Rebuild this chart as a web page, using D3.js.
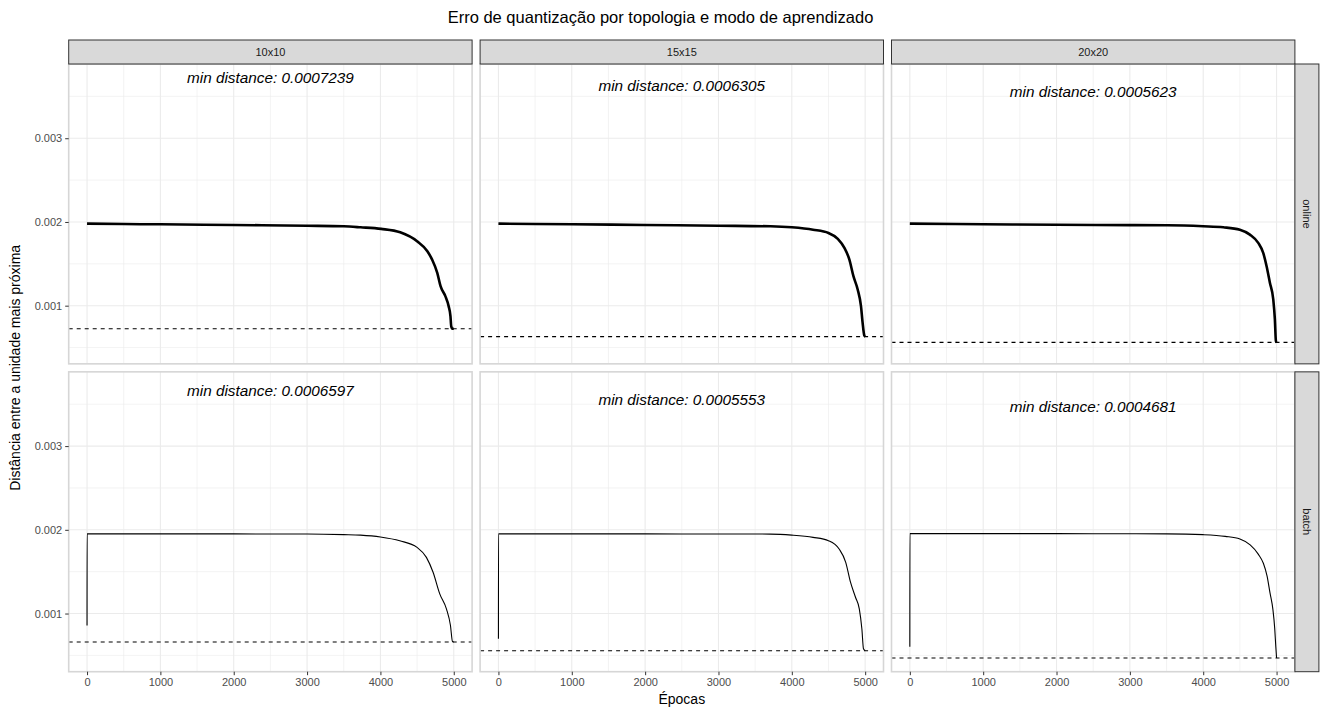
<!DOCTYPE html>
<html>
<head>
<meta charset="utf-8">
<script src="https://cdn.jsdelivr.net/npm/d3@7"></script>
<style>
  body { margin: 0; background: #fff; }
  svg { font-family: "Liberation Sans", Arial, sans-serif; }
</style>
</head>
<body>
<svg id="chart" width="1321" height="709"></svg>
<script>
var colLabels = ["10x10", "15x15", "20x20"];
var rowLabels = ["online", "batch"];

var minOnline = [0.0007239, 0.0006305, 0.0005623];
var minBatch = [0.0006597, 0.0005553, 0.0004681];

var xTicks = [0, 1000, 2000, 3000, 4000, 5000];
var yTicks = [0.001, 0.002, 0.003];

// epochs / values
var epochsOnline10 = [0, 500, 1000, 2000, 3000, 3500, 3730, 4010, 4270, 4500, 4640, 4705, 4775, 4820, 4885, 4930, 4955, 4965, 4980, 5000];
var valuesOnline10 = [0.00198, 0.001975, 0.001972, 0.001964, 0.001955, 0.001948, 0.001936, 0.001917, 0.001876, 0.001769, 0.00165, 0.00155, 0.001393, 0.001233, 0.001114, 0.000995, 0.000876, 0.000757, 0.000724, 0.0007239];

var epochsOnline15 = [0, 1000, 2000, 3000, 3710, 4000, 4290, 4500, 4627, 4717, 4785, 4840, 4898, 4943, 4965, 4988, 5000];
var valuesOnline15 = [0.00198, 0.001972, 0.001964, 0.001955, 0.001948, 0.001936, 0.001908, 0.001869, 0.001798, 0.00169, 0.00155, 0.001352, 0.001194, 0.000995, 0.000798, 0.000646, 0.0006305];

var epochsOnline20 = [0, 1000, 2000, 3000, 3509, 4000, 4273, 4500, 4636, 4750, 4818, 4864, 4909, 4955, 4977, 4991, 5000];
var valuesOnline20 = [0.00198, 0.001972, 0.001966, 0.001962, 0.00196, 0.001948, 0.001936, 0.001908, 0.001849, 0.00175, 0.001631, 0.001471, 0.001274, 0.001075, 0.000837, 0.000579, 0.0005623];

var epochsBatch10 = [0, 1, 1000, 2000, 3000, 3500, 3728, 4000, 4264, 4500, 4627, 4718, 4809, 4900, 4955, 4982, 5000];
var valuesBatch10 = [0.000857, 0.001952, 0.001952, 0.001951, 0.00195, 0.001943, 0.001937, 0.001915, 0.001869, 0.00179, 0.001671, 0.001493, 0.001235, 0.001056, 0.000857, 0.000667, 0.0006597];

var epochsBatch15 = [0, 1, 1000, 2000, 3000, 3710, 4000, 4290, 4500, 4645, 4735, 4800, 4868, 4920, 4955, 4977, 5000];
var valuesBatch15 = [0.000698, 0.001952, 0.001952, 0.001951, 0.00195, 0.001949, 0.001937, 0.00191, 0.001869, 0.00177, 0.001612, 0.001374, 0.001195, 0.001056, 0.000818, 0.00058, 0.0005553];

var epochsBatch20 = [0, 1, 1000, 2000, 3000, 3500, 4000, 4300, 4500, 4640, 4750, 4820, 4870, 4910, 4950, 4975, 4990, 5000];
var valuesBatch20 = [0.000603, 0.001955, 0.001955, 0.001954, 0.001953, 0.001952, 0.001942, 0.001922, 0.00189, 0.00182, 0.00171, 0.0016, 0.00145, 0.00125, 0.00105, 0.00082, 0.0006, 0.0004681];

var series = [
    [[epochsOnline10, valuesOnline10], [epochsOnline15, valuesOnline15], [epochsOnline20, valuesOnline20]],
    [[epochsBatch10, valuesBatch10], [epochsBatch15, valuesBatch15], [epochsBatch20, valuesBatch20]]
];
var minDist = [minOnline, minBatch];

var dims = { left: 68.7, top: 64, panelW: 403.4, panelH: 299.85, gap: 8, strip: 24 };

var x = d3.scaleLinear().domain([-250, 5250]).range([0, dims.panelW]);
var yMin = d3.min(minBatch), yMax = d3.max(minOnline) + 0.003;
var pad = (yMax - yMin) * 0.05;
var y = d3.scaleLinear().domain([yMin - pad, yMax + pad]).range([dims.panelH, 0]);

var xMinor = d3.range(500, 5000, 1000);
var yMinor = [0.0005, 0.0015, 0.0025, 0.0035];

var line = d3.line()
    .x(function(d) { return x(d[0]); })
    .y(function(d) { return y(d[1]); })
    .curve(d3.curveMonotoneX);

var svg = d3.select("#chart");

svg.append("text")
    .attr("x", 660.5).attr("y", 23)
    .attr("text-anchor", "middle")
    .attr("font-size", 16.5).attr("fill", "#000")
    .text("Erro de quantização por topologia e modo de aprendizado");

rowLabels.forEach(function(rowName, r) {
    colLabels.forEach(function(colName, c) {
        var px = dims.left + c * (dims.panelW + dims.gap);
        var py = dims.top + r * (dims.panelH + dims.gap);
        var g = svg.append("g").attr("transform", "translate(" + px + "," + py + ")");

        g.append("rect").attr("width", dims.panelW).attr("height", dims.panelH).attr("fill", "#fff");

        // grid
        g.selectAll(".minx").data(xMinor).enter().append("line")
            .attr("x1", x).attr("x2", x).attr("y1", 0).attr("y2", dims.panelH)
            .attr("stroke", "#EBEBEB").attr("stroke-width", 0.6);
        g.selectAll(".miny").data(yMinor).enter().append("line")
            .attr("y1", y).attr("y2", y).attr("x1", 0).attr("x2", dims.panelW)
            .attr("stroke", "#EBEBEB").attr("stroke-width", 0.6);
        g.selectAll(".majx").data(xTicks).enter().append("line")
            .attr("x1", x).attr("x2", x).attr("y1", 0).attr("y2", dims.panelH)
            .attr("stroke", "#EBEBEB").attr("stroke-width", 1.1);
        g.selectAll(".majy").data(yTicks).enter().append("line")
            .attr("y1", y).attr("y2", y).attr("x1", 0).attr("x2", dims.panelW)
            .attr("stroke", "#EBEBEB").attr("stroke-width", 1.1);

        var s = series[r][c];
        var pts = s[0].map(function(e, i) { return [e, s[1][i]]; });
        g.append("path")
            .datum(pts)
            .attr("d", line)
            .attr("fill", "none")
            .attr("stroke", "#000")
            .attr("stroke-width", r == 0 ? 2.6 : 1.1)
            .attr("stroke-linejoin", "round");

        var m = minDist[r][c];
        g.append("line")
            .attr("x1", 0).attr("x2", dims.panelW)
            .attr("y1", y(m)).attr("y2", y(m))
            .attr("stroke", "#000").attr("stroke-width", 1.1)
            .attr("stroke-dasharray", "4,4");

        g.append("text")
            .attr("x", x(2500)).attr("y", y(m + 0.003))
            .attr("dy", "0.35em")
            .attr("text-anchor", "middle")
            .attr("font-size", 15.3).attr("font-style", "italic").attr("fill", "#000")
            .text("min distance: " + m.toFixed(7));

        g.append("rect").attr("width", dims.panelW).attr("height", dims.panelH)
            .attr("fill", "none").attr("stroke", "#D6D6D6").attr("stroke-width", 1.6);

        if (c == 0) {
            var ya = g.append("g").call(d3.axisLeft(y).tickValues(yTicks).tickSize(3.5).tickPadding(3).tickFormat(d3.format(".3f")));
            ya.select(".domain").remove();
            ya.selectAll("line").attr("stroke", "#333");
            ya.selectAll("text").attr("font-size", 11).attr("fill", "#4D4D4D").attr("font-family", "Liberation Sans, Arial, sans-serif");
        }
        if (r == 1) {
            var xa = g.append("g").attr("transform", "translate(0," + dims.panelH + ")")
                .call(d3.axisBottom(x).tickValues(xTicks).tickSize(3.5).tickPadding(3).tickFormat(d3.format("d")));
            xa.select(".domain").remove();
            xa.selectAll("line").attr("stroke", "#333");
            xa.selectAll("text").attr("font-size", 11).attr("fill", "#4D4D4D").attr("font-family", "Liberation Sans, Arial, sans-serif");
        }
        if (r == 0) {
            g.append("rect").attr("x", 0).attr("y", -dims.strip)
                .attr("width", dims.panelW).attr("height", dims.strip)
                .attr("fill", "#D9D9D9").attr("stroke", "#333").attr("stroke-width", 1);
            g.append("text").attr("x", dims.panelW / 2).attr("y", -dims.strip / 2)
                .attr("dy", "0.35em").attr("text-anchor", "middle")
                .attr("font-size", 11).attr("fill", "#1A1A1A").text(colName);
        }
        if (c == 2) {
            g.append("rect").attr("x", dims.panelW).attr("y", 0)
                .attr("width", dims.strip).attr("height", dims.panelH)
                .attr("fill", "#D9D9D9").attr("stroke", "#333").attr("stroke-width", 1);
            g.append("text")
                .attr("transform", "translate(" + (dims.panelW + dims.strip / 2) + "," + (dims.panelH / 2) + ") rotate(90)")
                .attr("dy", "0.35em").attr("text-anchor", "middle")
                .attr("font-size", 11).attr("fill", "#1A1A1A").text(rowName);
        }
    });
});

var panelsRight = dims.left + 3 * dims.panelW + 2 * dims.gap;
var panelsBottom = dims.top + 2 * dims.panelH + dims.gap;

svg.append("text")
    .attr("x", (dims.left + panelsRight) / 2).attr("y", 704)
    .attr("text-anchor", "middle").attr("font-size", 14).attr("fill", "#000")
    .text("Épocas");

svg.append("text")
    .attr("transform", "translate(20," + ((dims.top + panelsBottom) / 2) + ") rotate(-90)")
    .attr("text-anchor", "middle").attr("font-size", 14).attr("fill", "#000")
    .text("Distância entre a unidade mais próxima");
</script>
</body>
</html>
